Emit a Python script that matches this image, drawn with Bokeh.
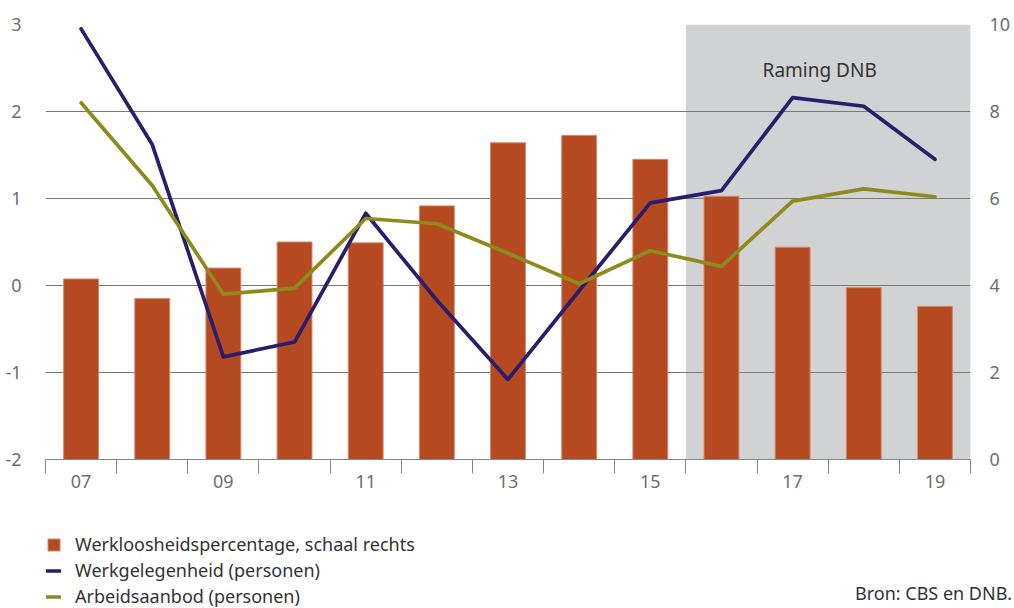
from bokeh.plotting import figure
from bokeh.layouts import column
from bokeh.models import (Range1d, LinearAxis, FixedTicker, BoxAnnotation, Label,
                          Legend, LegendItem, ColumnDataSource)
from bokeh.embed import file_html
from bokeh.resources import INLINE

# ---- data ----
years = ["07", "08", "09", "10", "11", "12", "13", "14", "15", "16", "17", "18", "19"]
werkloosheid = [4.15, 3.7, 4.4, 5.0, 4.98, 5.83, 7.28, 7.45, 6.9, 6.05, 4.88, 3.95, 3.52]
werkgelegenheid = [2.95, 1.62, -0.82, -0.65, 0.83, -0.17, -1.08, -0.06, 0.95, 1.09, 2.16, 2.06, 1.45]
arbeidsaanbod = [2.10, 1.15, -0.10, -0.03, 0.77, 0.71, 0.37, 0.02, 0.40, 0.22, 0.97, 1.11, 1.02]
first_forecast = "16"
left_ticks = [-2, -1, 0, 1, 2, 3]
right_ticks = [0, 2, 4, 6, 8, 10]
x_label_years = ["07", "09", "11", "13", "15", "17", "19"]
series_names = ["Werkloosheidspercentage, schaal rechts",
                "Werkgelegenheid (personen)",
                "Arbeidsaanbod (personen)"]
source_note = "Bron: CBS en DNB."

FONT = "Noto Sans"
FS = "18px"
ORANGE = "#B5491F"
NAVY = "#2A1D6C"
OLIVE = "#8E8A1C"
GREY_TXT = "#6e6e6e"
DARK_TXT = "#333333"
W = 1014
H1 = 499
H2 = 109
BL, BR = 45, 44   # borders left / right (frames of both rows are aligned)

xs = list(range(len(years)))
src = ColumnDataSource(dict(x=xs, w=werkloosheid, g=werkgelegenheid, a=arbeidsaanbod))

p = figure(width=W, height=H1, output_backend="svg", toolbar_location=None,
           x_range=Range1d(-0.5, len(years) - 0.5),
           y_range=Range1d(left_ticks[0], left_ticks[-1]),
           min_border_left=BL, min_border_right=BR, min_border_top=24,
           min_border_bottom=40)
p.extra_y_ranges = {"right": Range1d(right_ticks[0], right_ticks[-1])}
p.outline_line_color = None
p.background_fill_color = "white"
p.border_fill_color = "white"

# forecast shading
fi = years.index(first_forecast)
box = BoxAnnotation(left=fi - 0.5, right=len(years) - 0.5, fill_color="#D1D2D4",
                    fill_alpha=1.0, line_color=None, level="image")
p.add_layout(box)

bar_style = dict(fill_color=ORANGE, line_color="#d4876a", line_width=1)
l1_style = dict(line_color=NAVY, line_width=3.7, line_join="round", line_cap="round")
l2_style = dict(line_color=OLIVE, line_width=3.7, line_join="round", line_cap="round")

p.vbar(x="x", top="w", bottom=0, width=0.49, source=src, y_range_name="right", **bar_style)
p.line(x="x", y="g", source=src, **l1_style)
p.line(x="x", y="a", source=src, **l2_style)

# x axis
xax = p.xaxis[0]
xax.ticker = FixedTicker(ticks=[years.index(y) for y in x_label_years],
                         minor_ticks=[i - 0.5 for i in range(len(years) + 1)])
xax.major_label_overrides = {years.index(y): y for y in x_label_years}
xax.major_tick_out = 0
xax.major_tick_in = 0
xax.minor_tick_out = 14
xax.minor_tick_in = 0
xax.minor_tick_line_color = "#888888"
xax.axis_line_color = "#888888"
xax.major_label_standoff = 1
xax.major_label_text_font = FONT
xax.major_label_text_font_size = FS
xax.major_label_text_color = GREY_TXT

# left axis
yax = p.yaxis[0]
yax.ticker = FixedTicker(ticks=left_ticks)
yax.major_label_overrides = {t: str(t) for t in left_ticks}
yax.axis_line_color = None
yax.major_tick_line_color = None
yax.minor_tick_line_color = None
yax.major_label_standoff = 18
yax.major_label_text_font = FONT
yax.major_label_text_font_size = FS
yax.major_label_text_color = GREY_TXT

# right axis
rax = LinearAxis(y_range_name="right", ticker=FixedTicker(ticks=right_ticks))
rax.major_label_overrides = {t: str(t) for t in right_ticks}
rax.axis_line_color = None
rax.major_tick_line_color = None
rax.minor_tick_line_color = None
rax.major_label_standoff = 13
rax.major_label_text_font = FONT
rax.major_label_text_font_size = FS
rax.major_label_text_color = GREY_TXT
p.add_layout(rax, "right")

p.xgrid.grid_line_color = None
p.ygrid.ticker = FixedTicker(ticks=left_ticks)
p.ygrid.grid_line_color = "#7a7a7a"
p.ygrid.grid_line_width = 1

# "Raming DNB" label
p.add_layout(Label(x=(fi - 0.5 + len(years) - 0.5) / 2 - 0.12, y=left_ticks[-1] - 0.52,
                   text="Raming DNB", text_font=FONT, text_font_size="19px",
                   text_color=DARK_TXT, text_align="center", text_baseline="middle"))

# ---- legend / source strip (data units == page pixels) ----
p2 = figure(width=W, height=H2, output_backend="svg", toolbar_location=None,
            x_range=Range1d(BL, W - BR), y_range=Range1d(H2, 0),
            y_axis_location=None,
            min_border_left=BL, min_border_right=BR, min_border_top=0,
            min_border_bottom=0)
p2.outline_line_color = None
p2.grid.grid_line_color = None
p2.background_fill_color = "white"
p2.border_fill_color = "white"

# source note as the single tick label of an unstyled bottom axis
# (axis labels may run past the frame edge, annotations may not)
note_center_x = 933
sax = p2.xaxis[0]
sax.ticker = FixedTicker(ticks=[note_center_x], minor_ticks=[])
sax.major_label_overrides = {note_center_x: source_note}
sax.axis_line_color = None
sax.major_tick_line_color = None
sax.minor_tick_line_color = None
sax.major_tick_out = 0
sax.major_tick_in = 0
sax.major_label_standoff = -28
sax.major_label_text_font = FONT
sax.major_label_text_font_size = FS
sax.major_label_text_color = DARK_TXT

nan = float("nan")
empty = ColumnDataSource(dict(x=[nan], y=[nan], top=[nan]))
r_bar = p2.vbar(x="x", top="top", width=1, source=empty, **bar_style)
r_l1 = p2.line(x="x", y="y", source=empty, **l1_style)
r_l2 = p2.line(x="x", y="y", source=empty, **l2_style)

legend = Legend(items=[
    LegendItem(label=series_names[0], renderers=[r_bar]),
    LegendItem(label=series_names[1], renderers=[r_l1]),
    LegendItem(label=series_names[2], renderers=[r_l2]),
], location=(1, 0), orientation="vertical")
legend.border_line_color = None
legend.background_fill_alpha = 0
legend.padding = 0
legend.margin = 0
legend.spacing = 2
legend.glyph_width = 15
legend.glyph_height = 15
legend.label_height = 20
legend.label_standoff = 14
legend.label_text_font = FONT
legend.label_text_font_size = FS
legend.label_text_color = DARK_TXT
p2.add_layout(legend, "center")

open("out.html", "w").write(file_html(column(p, p2), INLINE))
